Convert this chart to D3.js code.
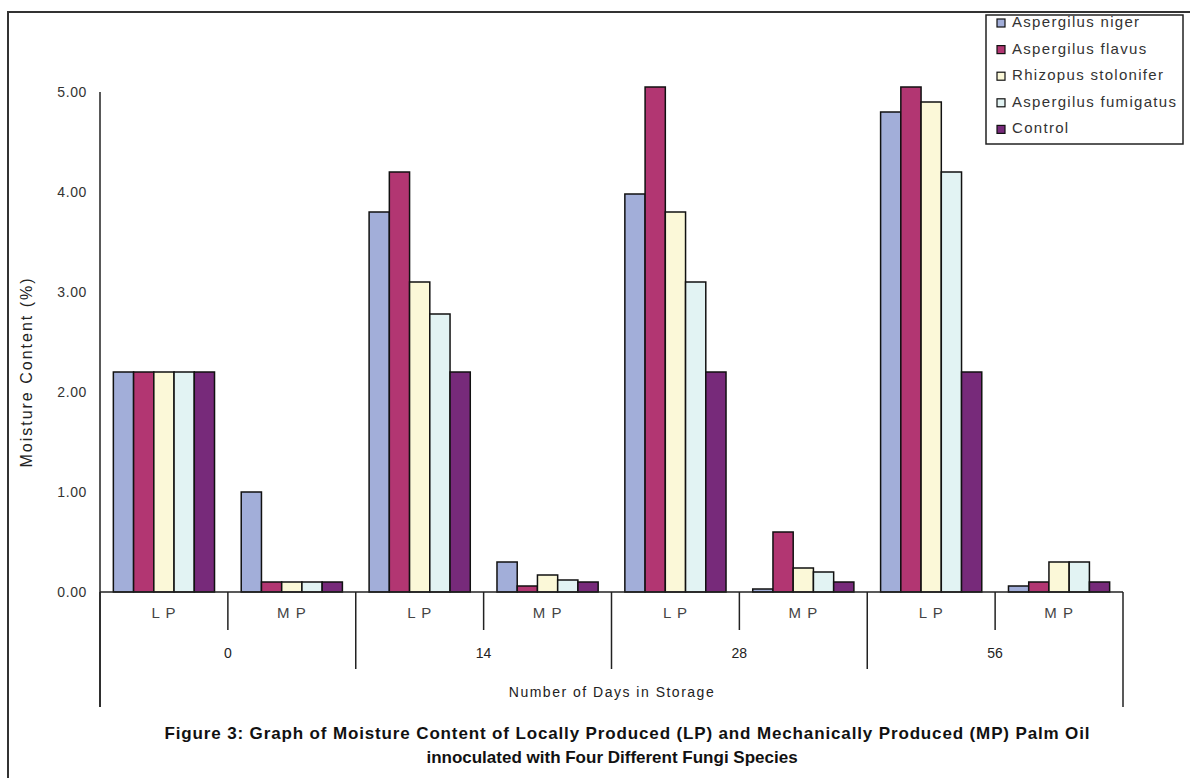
<!DOCTYPE html>
<html>
<head>
<meta charset="utf-8">
<script src="https://cdn.jsdelivr.net/npm/d3@7"></script>
<style>
  html, body { margin: 0; padding: 0; background: #fff; }
  svg { display: block; font-family: "Liberation Sans", Arial, sans-serif; }
</style>
</head>
<body>
<svg id="chart" width="1190" height="778"></svg>
<script>
// ---- data ----
const days = ["0", "14", "28", "56"];
const types = ["L P", "M P"];
const seriesNames = ["Aspergilus niger", "Aspergilus flavus", "Rhizopus stolonifer", "Aspergilus fumigatus", "Control"];
const seriesColors = ["#A2AED9", "#B23672", "#FBF8D8", "#E2F3F3", "#772A7A"];
// values per category in order: 0 LP, 0 MP, 14 LP, 14 MP, 28 LP, 28 MP, 56 LP, 56 MP
const nigerValues     = [2.2, 1.0, 3.8, 0.3,  3.98, 0.03, 4.8,  0.06];
const flavusValues    = [2.2, 0.1, 4.2, 0.06, 5.05, 0.6,  5.05, 0.1];
const rhizopusValues  = [2.2, 0.1, 3.1, 0.17, 3.8,  0.24, 4.9,  0.3];
const fumigatusValues = [2.2, 0.1, 2.78,0.12, 3.1,  0.2,  4.2,  0.3];
const controlValues   = [2.2, 0.1, 2.2, 0.1,  2.2,  0.1,  2.2,  0.1];
const yTicks = [0, 1, 2, 3, 4, 5];
const yTitle = "Moisture Content (%)";
const xTitle = "Number of Days in Storage";
const captionLines = [
  "Figure 3: Graph of Moisture Content of Locally Produced (LP) and Mechanically Produced (MP) Palm Oil",
  "innoculated with Four Different Fungi Species"
];

const seriesValues = [nigerValues, flavusValues, rhizopusValues, fumigatusValues, controlValues];
const categories = [];
days.forEach(d => types.forEach(t => categories.push(d + "|" + t)));

// ---- layout ----
const svg = d3.select("#chart");
const x0 = 100, x1 = 1123, yBase = 592, yTop = 92;

const x = d3.scaleBand().domain(categories).range([x0, x1]).paddingInner(0).paddingOuter(0);
const xs = d3.scaleBand().domain(seriesNames).range([0, x.bandwidth()]).paddingInner(0).paddingOuter(0.66);
const y = d3.scaleLinear().domain([0, 5]).range([yBase, yTop]);

// outer frame
svg.append("path")
  .attr("d", `M8,778 L8,12 L1190,12`)
  .attr("fill", "none").attr("stroke", "#333").attr("stroke-width", 2);

// bars
const g = svg.append("g");
seriesNames.forEach((name, si) => {
  g.selectAll(null)
    .data(seriesValues[si].map((v, i) => ({ cat: categories[i], v })))
    .enter().append("rect")
    .attr("x", d => x(d.cat) + xs(name))
    .attr("y", d => y(d.v))
    .attr("width", xs.bandwidth())
    .attr("height", d => y(0) - y(d.v))
    .attr("fill", seriesColors[si])
    .attr("stroke", "#111")
    .attr("stroke-width", 1.5);
});

// y axis
const yAxis = d3.axisLeft(y).tickValues(yTicks).tickSize(0).tickPadding(13).tickFormat(d3.format(".2f"));
const ya = svg.append("g").attr("transform", `translate(${x0},0)`).call(yAxis);
ya.select(".domain").remove();
ya.selectAll("text").attr("font-size", 14).attr("fill", "#333").attr("letter-spacing", 0.6)
  .attr("dy", "0.3em")
  .attr("font-family", "Liberation Sans, Arial, sans-serif");
svg.append("line").attr("x1", x0).attr("x2", x0).attr("y1", yTop).attr("y2", 707)
  .attr("stroke", "#222").attr("stroke-width", 1.5);

// x baseline
svg.append("line").attr("x1", x0).attr("x2", x1).attr("y1", yBase).attr("y2", yBase)
  .attr("stroke", "#222").attr("stroke-width", 1.5);

// multi-level category dividers
const boundaries = d3.range(categories.length + 1);
svg.selectAll(".div").data(boundaries).enter().append("line")
  .attr("x1", i => i < categories.length ? x(categories[i]) : x1)
  .attr("x2", i => i < categories.length ? x(categories[i]) : x1)
  .attr("y1", yBase)
  .attr("y2", i => (i === 0 || i === categories.length) ? 707 : (i % 2 === 0 ? 669 : 630))
  .attr("stroke", "#222").attr("stroke-width", 1.5);

// type labels
svg.selectAll(".tlab").data(categories).enter().append("text")
  .attr("x", d => x(d) + x.bandwidth() / 2)
  .attr("y", 618)
  .attr("text-anchor", "middle")
  .attr("font-size", 15).attr("letter-spacing", 1).attr("fill", "#444")
  .text(d => d.split("|")[1]);

// day labels
svg.selectAll(".dlab").data(days).enter().append("text")
  .attr("x", d => x(d + "|" + types[1]))
  .attr("y", 658)
  .attr("text-anchor", "middle")
  .attr("font-size", 14).attr("fill", "#222")
  .text(d => d);

// axis titles
svg.append("text")
  .attr("x", 612).attr("y", 697)
  .attr("text-anchor", "middle").attr("font-size", 14).attr("letter-spacing", 1.5).attr("fill", "#222")
  .text(xTitle);
svg.append("text")
  .attr("transform", `translate(32,372) rotate(-90)`)
  .attr("text-anchor", "middle").attr("font-size", 16).attr("letter-spacing", 2).attr("fill", "#222")
  .text(yTitle);

// caption
svg.selectAll(".cap").data(captionLines).enter().append("text")
  .attr("x", (d, i) => i === 0 ? 627 : 612)
  .attr("y", (d, i) => 739 + i * 24)
  .attr("text-anchor", "middle")
  .attr("font-size", 17).attr("font-weight", "bold").attr("fill", "#111")
  .each(function(d, i) {
    if (i === 0) d3.select(this).attr("textLength", 925).attr("lengthAdjust", "spacing");
  })
  .text(d => d);

// legend
const lg = svg.append("g");
lg.append("rect").attr("x", 986).attr("y", 15).attr("width", 197).attr("height", 129)
  .attr("fill", "#fff").attr("stroke", "#222").attr("stroke-width", 1.5);
seriesNames.forEach((name, i) => {
  const cy = 21 + i * 26.6;
  lg.append("rect").attr("x", 997).attr("y", cy - 2).attr("width", 8).attr("height", 8)
    .attr("fill", seriesColors[i]).attr("stroke", "#111").attr("stroke-width", 1.2);
  lg.append("text").attr("x", 1012).attr("y", cy + 6)
    .attr("font-size", 15).attr("letter-spacing", 1.3).attr("fill", "#333").text(name);
});
</script>
</body>
</html>
